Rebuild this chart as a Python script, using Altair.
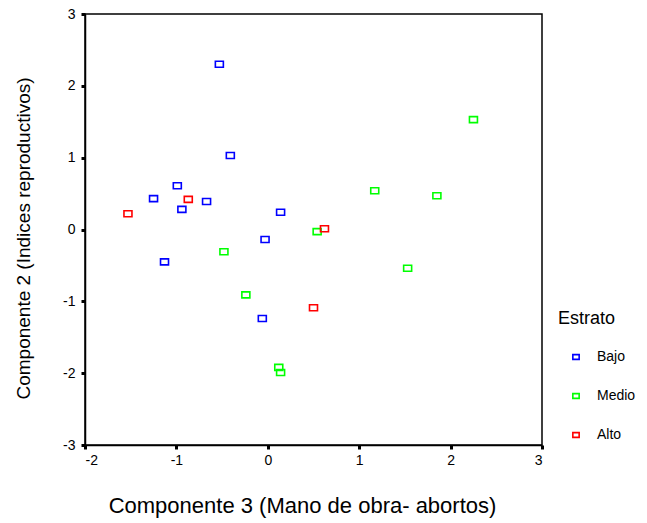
import altair as alt
import pandas as pd

bajo_x = [-0.53, -0.41, -0.99, -1.25, -0.67, -0.94, 0.14, -0.03, -1.13, -0.06]
bajo_y = [2.30, 1.03, 0.61, 0.43, 0.39, 0.28, 0.24, -0.14, -0.45, -1.24]
medio_x = [2.25, 1.17, 1.85, 0.54, -0.48, 1.53, -0.24, 0.12, 0.14]
medio_y = [1.53, 0.54, 0.47, -0.03, -0.31, -0.54, -0.91, -1.92, -1.99]
alto_x = [-1.53, -0.87, 0.62, 0.50]
alto_y = [0.22, 0.42, 0.01, -1.09]

categories = ["Bajo", "Medio", "Alto"]
colors = ["#0000FF", "#00FF00", "#FF0000"]

rows = []
for name, xs, ys in [("Bajo", bajo_x, bajo_y), ("Medio", medio_x, medio_y), ("Alto", alto_x, alto_y)]:
    for a, b in zip(xs, ys):
        rows.append({"x": a, "y": b, "Estrato": name})
df = pd.DataFrame(rows)

shape = "M-1,-0.75L1,-0.75L1,0.75L-1,0.75Z"
font = "Liberation Sans"

chart = alt.Chart(df).mark_point(shape=shape, filled=False, size=64, strokeWidth=1.6, opacity=1).encode(
    x=alt.X("x:Q", scale=alt.Scale(domain=[-2, 3], nice=False, zero=False),
            axis=alt.Axis(title="Componente 3 (Mano de obra- abortos)", values=[-2, -1, 0, 1, 2, 3],
                          labelExpr="datum.value + ''", grid=False, domainColor="black", domainWidth=1.5,
                          tickColor="black", tickWidth=3, tickSize=4, labelFontSize=14,
                          labelColor="black", labelPadding=4, titleFontSize=22, titleFont=font,
                          titleFontWeight="normal", titleColor="black", titleX=217, titleY=67,
                          titleBaseline="alphabetic", labelFont=font)),
    y=alt.Y("y:Q", scale=alt.Scale(domain=[-3, 3], nice=False, zero=False),
            axis=alt.Axis(title="Componente 2 (Indices reproductivos)", values=[-3, -2, -1, 0, 1, 2, 3],
                          labelExpr="datum.value + ''", grid=False, domainColor="black", domainWidth=1.5,
                          tickColor="black", tickWidth=3, tickSize=4, labelFontSize=14,
                          labelColor="black", labelPadding=6, titleFontSize=19, titleFont=font,
                          titleFontWeight="normal", titleColor="black", titleX=-56, titleY=224,
                          titleBaseline="alphabetic", labelFont=font)),
    color=alt.Color("Estrato:N", scale=alt.Scale(domain=categories, range=colors),
                    legend=alt.Legend(title="Estrato", orient="none", legendX=473, legendY=296,
                                      titleFontSize=18, titleFont=font, titleFontWeight="normal",
                                      titleColor="black", labelFontSize=14, labelFont=font,
                                      labelColor="black", symbolOffset=11, rowPadding=25,
                                      titlePadding=22, labelOffset=14, symbolStrokeWidth=1.6,
                                      symbolSize=40)),
).properties(
    width=457, height=431,
    autosize=alt.AutoSizeParams(type="none"),
    padding={"left": 77, "top": 6, "right": 97, "bottom": 78},
).configure_view(stroke="black", strokeWidth=1.5)

chart.save("out.html", embed_options={"renderer": "svg", "actions": False})
